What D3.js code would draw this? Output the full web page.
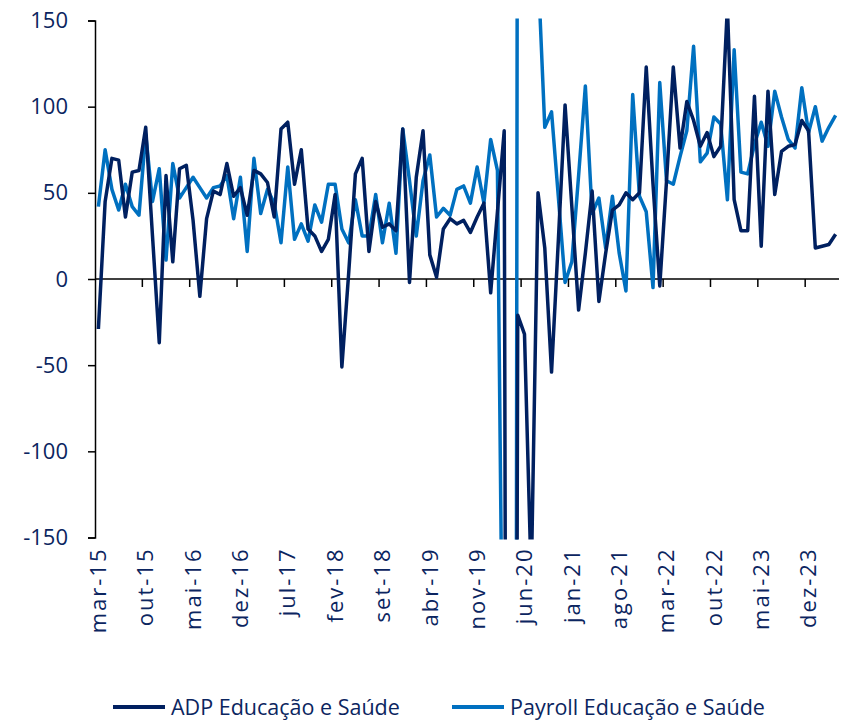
<!DOCTYPE html>
<html>
<head>
<meta charset="utf-8">
<script src="https://cdn.jsdelivr.net/npm/d3@7"></script>
<style>
  body { margin: 0; background: #fff; }
  text { font-family: "Open Sans", Roboto, sans-serif; fill: #0b2560; }
</style>
</head>
<body>
<script>
// monthly changes (thousands), mar-15 .. abr-24
var monthNames = ["jan","fev","mar","abr","mai","jun","jul","ago","set","out","nov","dez"];
var startMonth = 2, startYear = 15, nMonths = 110;

var tickLabels = ["mar-15","out-15","mai-16","dez-16","jul-17","fev-18","set-18","abr-19",
                  "nov-19","jun-20","jan-21","ago-21","mar-22","out-22","mai-23","dez-23"];
var yTicks = [-150, -100, -50, 0, 50, 100, 150];

var adp = [-29,45,70,69,36,62,63,88,25,-37,60,10,64,66,34,-10,35,51,49,67,
           48,53,37,63,61,56,36,87,91,55,75,29,25,16,23,49,-51,3,61,70,
           16,45,30,32,28,87,-2,59,86,14,1,29,35,32,34,27,36,44,-8,39,
           86,-1500,-21,-32,-175,50,18,-54,22,101,42,-18,15,51,-13,15,40,43,50,46,
           50,123,55,-4,57,123,76,103,92,77,85,71,77,158,46,28,28,106,19,109,
           49,74,77,78,92,86,18,19,20,26];

var payroll = [42,75,52,40,55,42,37,84,45,64,11,67,47,53,59,53,47,53,54,60,
               35,59,16,70,38,52,44,21,65,23,32,22,43,33,55,55,29,21,46,25,
               25,49,21,44,15,87,57,25,57,72,36,41,37,52,54,44,65,44,81,63,
               -330,-2500,400,500,300,180,88,97,48,-2,10,60,112,38,47,18,48,15,-7,107,
               48,39,-5,114,57,55,71,86,135,68,73,94,90,46,133,62,61,78,91,77,
               109,94,81,76,111,85,100,80,88,95];

var seriesNames = ["ADP Educação e Saúde", "Payroll Educação e Saúde"];
var colors = ["#002060", "#0070c0"];

var months = [];
for (var i = 0; i < nMonths; i++) {
  var m = (startMonth + i) % 12;
  var yr = startYear + Math.floor((startMonth + i) / 12);
  months.push(monthNames[m] + "-" + yr);
}

var width = 857, height = 720;
var plotLeft = 95, plotRight = 839, plotTop = 20.5, plotBottom = 537.5;

var svg = d3.select("body")
  .append("svg")
  .attr("width", width)
  .attr("height", height);

var xscale = d3.scaleBand()
  .domain(months)
  .range([plotLeft, plotRight])
  .padding(0);

var yscale = d3.scaleLinear()
  .domain([-150, 150])
  .range([plotBottom, plotTop]);

svg.append("clipPath")
  .attr("id", "plot")
  .append("rect")
  .attr("x", plotLeft)
  .attr("y", plotTop - 2)
  .attr("width", plotRight - plotLeft)
  .attr("height", plotBottom - plotTop + 4);

// y axis (plain hyphen for negatives, like the original)
var yAxis = svg.append("g")
  .attr("transform", "translate(" + plotLeft + ",0)")
  .call(d3.axisLeft(yscale).tickValues(yTicks).tickSize(7).tickPadding(20)
    .tickFormat(function (d) { return String(d); }));
yAxis.select(".domain").attr("stroke", "#000").attr("stroke-width", 1.5);
yAxis.selectAll(".tick line").attr("stroke", "#000").attr("stroke-width", 1.5);
yAxis.selectAll("text").style("font-size", "22px").attr("fill", "#0b2560");

// x axis at zero, ticks every 7 months on category boundaries
var boundaries = months.filter(function (d, i) { return i % 7 == 0 && i > 0; });
svg.append("line")
  .attr("x1", plotLeft).attr("x2", plotRight)
  .attr("y1", yscale(0)).attr("y2", yscale(0))
  .attr("stroke", "#000").attr("stroke-width", 1.5);
svg.selectAll(".xtick")
  .data(boundaries)
  .enter()
  .append("line")
  .attr("x1", function (d) { return xscale(d); })
  .attr("x2", function (d) { return xscale(d); })
  .attr("y1", yscale(0))
  .attr("y2", yscale(0) + 8)
  .attr("stroke", "#000").attr("stroke-width", 1.5);

svg.selectAll(".xlabel")
  .data(tickLabels)
  .enter()
  .append("text")
  .text(function (d) { return d; })
  .attr("transform", function (d) {
    return "translate(" + (xscale(d) + xscale.bandwidth() / 2) + "," + (plotBottom + 10) + ") rotate(-90)";
  })
  .attr("dy", "0.35em")
  .style("text-anchor", "end")
  .style("letter-spacing", "2px")
  .style("font-size", "22px");

// lines
var generator = d3.line()
  .x(function (d, i) { return xscale(months[i]) + xscale.bandwidth() / 2; })
  .y(function (d) { return yscale(d); });

var chart = svg.append("g").attr("clip-path", "url(#plot)");
[adp, payroll].forEach(function (s, k) {
  chart.append("path")
    .datum(s)
    .attr("d", generator)
    .attr("fill", "none")
    .attr("stroke", colors[k])
    .attr("stroke-width", 3.5)
    .attr("stroke-linejoin", "round");
});
// ADP drawn on top like the reference
chart.select("path").raise();

// legend
var legendX = [113, 452];
seriesNames.forEach(function (name, k) {
  svg.append("line")
    .attr("x1", legendX[k]).attr("x2", legendX[k] + 52)
    .attr("y1", 707).attr("y2", 707)
    .attr("stroke", colors[k]).attr("stroke-width", 4);
  svg.append("text")
    .text(name)
    .attr("x", legendX[k] + 58)
    .attr("y", 707)
    .attr("dy", "0.35em")
    .style("font-size", "21.5px");
});
</script>
</body>
</html>
